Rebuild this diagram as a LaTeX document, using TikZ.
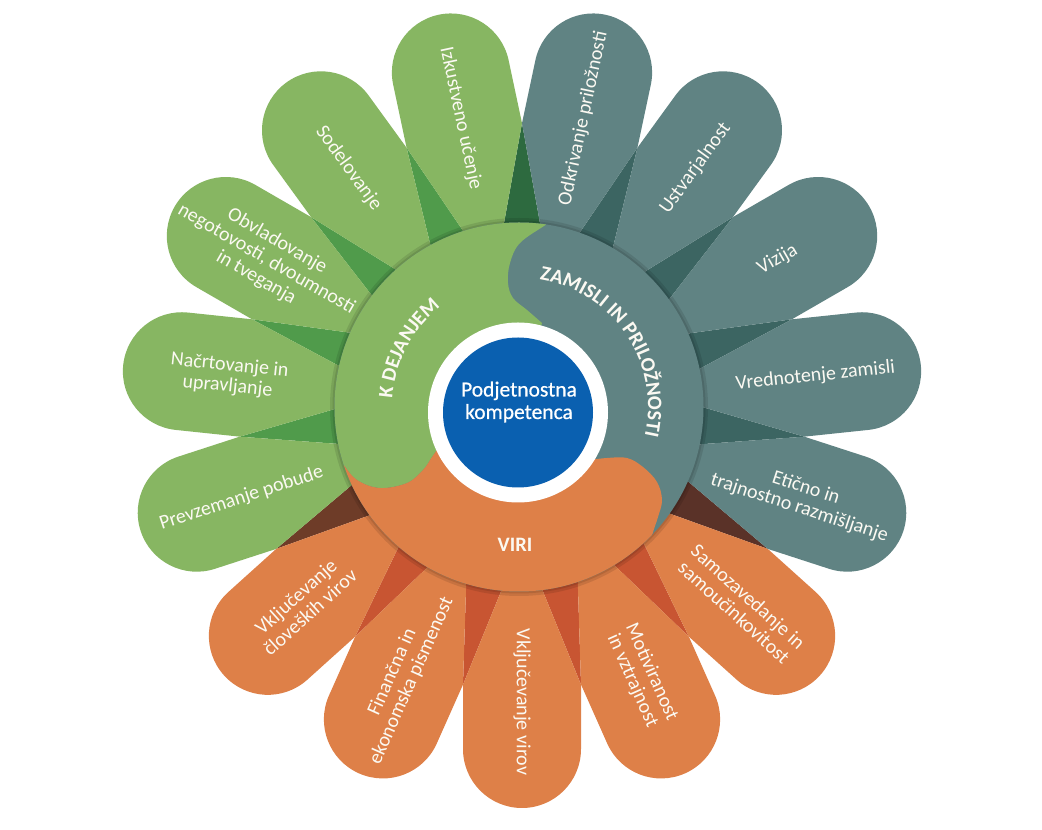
\documentclass[tikz,border=0pt]{standalone}
\usepackage{fontspec}
\setmainfont{Carlito}
\newfontfamily\ctrfont[FakeBold=0.6]{Carlito}
\usetikzlibrary{calc,decorations.text}
\definecolor{grn}{HTML}{87B662}
\definecolor{grnmid}{HTML}{509B4B}
\definecolor{grndark}{HTML}{2D6A3F}
\definecolor{gry}{HTML}{608383}
\definecolor{teal}{HTML}{3C6562}
\definecolor{orn}{HTML}{DE8048}
\definecolor{redo}{HTML}{C85532}
\definecolor{brownA}{HTML}{6E3C28}
\definecolor{brownB}{HTML}{5A3228}
\definecolor{blu}{HTML}{0A60B0}
\definecolor{txt}{HTML}{FBF9F2}
\newcommand{\catfnt}{\fontsize{20.5}{20.5}\selectfont\bfseries}
\tikzset{
  ptxt/.style={text=txt, align=center, font=\fontsize{20}{21}\selectfont, inner sep=0pt},
  cattxt/.style={text=txt, font=\catfnt, inner sep=0pt},
  ctrtxt/.style={text=white, align=center, font=\ctrfont\fontsize{21.5}{22.5}\selectfont, inner sep=0pt},
}
\begin{document}
\begin{tikzpicture}[x=1pt,y=1pt]
\useasboundingbox (0,0) rectangle (1042,830);
\fill[white] (0,0) rectangle (1042,830);
\coordinate (C) at (522,423);
\coordinate (D) at (519,423);
\coordinate (B) at (518,417.5);

% dark gaps between petals
\foreach \g/\col in {78/grndark,102/grnmid,126/grnmid,150/grnmid,174/grnmid,198/brownA,222/redo,246/redo,270/redo,294/redo,318/brownB,342/teal,6/teal,30/teal,54/teal}{
  \fill[\col] ($(C)+(\g:133)$) -- ($(C)+(\g+12:283.8)$) -- ($(C)+(\g+24:133)$) -- cycle;
}
% petals
\foreach \a/\col in {102/grn,126/grn,150/grn,174/grn,198/grn,222/orn,246/orn,270/orn,294/orn,318/orn,342/gry,6/gry,30/gry,54/gry,78/gry}{
  \fill[\col, shift={(C)}, rotate=\a] (133,0) -- (277.6,59) -- (342,59) arc[start angle=90, end angle=-90, radius=59] -- (277.6,-59) -- cycle;
}

% petal texts
\node[ptxt, rotate=-78] (p1) at ($(C)+(102:295)$) {Izkustveno učenje};
\node[ptxt, rotate=-54] (p2) at ($(C)+(126:295)$) {Sodelovanje};
\node[ptxt, rotate=-30] (p3) at ($(C)+(150:295)$) {Obvladovanje\\negotovosti, dvoumnosti\\in tveganja};
\node[ptxt, rotate=-6] (p4) at ($(C)+(174:295)$) {Načrtovanje in\\upravljanje};
\node[ptxt, rotate=18] (p5) at ($(C)+(198:295)$) {Prevzemanje pobude};
\node[ptxt, rotate=42] (p6) at ($(C)+(222:295)$) {Vključevanje\\človeških virov};
\node[ptxt, rotate=66] (p7) at ($(C)+(246:295)$) {Finančna in\\ekonomska pismenost};
\node[ptxt, rotate=-90] (p8) at ($(C)+(270:295)$) {Vključevanje virov};
\node[ptxt, rotate=-66] (p9) at ($(C)+(294:295)$) {Motiviranost\\in vztrajnost};
\node[ptxt, rotate=-42] (p10) at ($(C)+(318:295)$) {Samozavedanje in\\samoučinkovitost};
\node[ptxt, rotate=-18] (p11) at ($(C)+(342:295)$) {Etično in\\trajnostno razmišljanje};
\node[ptxt, rotate=6] (p12) at ($(C)+(6:295)$) {Vrednotenje zamisli};
\node[ptxt, rotate=30] (p13) at ($(C)+(30:295)$) {Vizija};
\node[ptxt, rotate=54] (p14) at ($(C)+(54:295)$) {Ustvarjalnost};
\node[ptxt, rotate=78] (p15) at ($(C)+(78:295)$) {Odkrivanje priložnosti};

% central disc with a soft rim shadow
\fill[black, opacity=0.10] (D) circle[radius=189];
\fill[black, opacity=0.10] (D) circle[radius=186.5];
\fill[gry] (D) circle[radius=184.5];
\begin{scope}
  \clip (D) circle[radius=184.5];
  \fill[grn] (518,418) -- (542,507)
    -- plot[smooth, tension=0.6] coordinates {(542,507) (527,520) (513,532) (508,547) (510,567) (520,587) (547,606) (575,625)}
    -- (571,718) -- (289,616) -- (237,320) -- (322,392)
    -- plot[smooth, tension=0.6] coordinates {(322,392) (342,367) (357,350) (380,342) (407,347) (423,360) (432,373) (437,380)}
    -- cycle;
  \fill[orn] (518,418) -- (437,380)
    -- plot[smooth, tension=0.6] coordinates {(437,380) (432,373) (423,360) (407,347) (380,342) (357,350) (342,367) (322,392)}
    -- (237,320) -- (519,123) -- (779,273) -- (645,262)
    -- plot[smooth, tension=0.6] coordinates {(645,262) (652,294) (658,313) (662,330) (657,348) (643,363) (627,372) (607,372) (590,370)}
    -- cycle;
\end{scope}

% ring and centre
\fill[white] (B) circle[radius=90];
\fill[blu] (B) circle[radius=75];
\node[ctrtxt] (ctr) at (519,428) {Podjetnostna\\kompetenca};

% category labels
\path[decorate, decoration={text along path, text={|\catfnt|ZAMISLI IN PRILOŽNOSTI}, text align=center, text color=txt}]
  ($(D)+(94:129)$) arc[start angle=94, end angle=-26, radius=129];
\path[decorate, decoration={text along path, text={|\catfnt|K DEJANJEM}, text align=center, text color=txt}]
  ($(D)+(212:127)$) arc[start angle=212, end angle=92, radius=127];
\node[cattxt] (viri) at (515,285) {VIRI};
\end{tikzpicture}
\end{document}
